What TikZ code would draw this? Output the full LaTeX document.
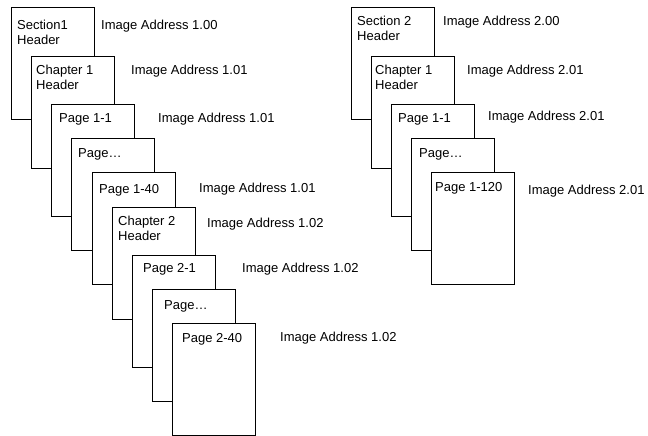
\documentclass[tikz,border=0pt]{standalone}
\usepackage{fontspec}
\setmainfont{Liberation Sans}
\usetikzlibrary{positioning}
\tikzset{font={\fontsize{13pt}{15pt}\selectfont}}
\tikzset{
  page/.style={draw, fill=white, line width=.8pt, inner sep=0pt, outer sep=0pt,
    anchor=north west, minimum width=83.5pt, minimum height=112pt},
  pagetext/.style={anchor=north west, inner sep=0pt, align=left},
  address/.style={anchor=north west, inner sep=0pt}
}

\begin{document}
\begin{tikzpicture}[x=1pt,y=-1pt]
\useasboundingbox (0,0) rectangle (648,436);

%section 1 pages
\node[page] at (11,7)   (s1sec) {};
\node[pagetext] at (17,20)   (s1sectxt) {Section1\\Header};
\node[page] at (31,56)   (s1ch1) {};
\node[pagetext] at (36,65)   (s1ch1txt) {Chapter 1\\Header};
\node[page] at (51,104)   (s1p11) {};
\node[pagetext] at (59,113)   (s1p11txt) {Page 1-1};
\node[page] at (71,138)   (s1pdotsa) {};
\node[pagetext] at (78,148)   (s1pdotsatxt) {Page…};
\node[page] at (92,172)   (s1p140) {};
\node[pagetext] at (99,184)   (s1p140txt) {Page 1-40};
\node[page] at (112,207)   (s1ch2) {};
\node[pagetext] at (118,216)   (s1ch2txt) {Chapter 2\\Header};
\node[page] at (132,255)   (s1p21) {};
\node[pagetext] at (143,263)   (s1p21txt) {Page 2-1};
\node[page] at (152,289)   (s1pdotsb) {};
\node[pagetext] at (164,300)   (s1pdotsbtxt) {Page…};
\node[page] at (172,323)   (s1p240) {};
\node[pagetext] at (182,333)   (s1p240txt) {Page 2-40};

%section 1 addresses
\node[address] at (101,20)   (s1addra) {Image Address 1.00};
\node[address] at (131,65)   (s1addrb) {Image Address 1.01};
\node[address] at (158,113)   (s1addrc) {Image Address 1.01};
\node[address] at (199,183)   (s1addrd) {Image Address 1.01};
\node[address] at (207,218)   (s1addre) {Image Address 1.02};
\node[address] at (242,263)   (s1addrf) {Image Address 1.02};
\node[address] at (280,332)   (s1addrg) {Image Address 1.02};

%section 2 pages
\node[page] at (351,7)   (s2sec) {};
\node[pagetext] at (357,16)   (s2sectxt) {Section 2\\Header};
\node[page] at (371,56)   (s2ch1) {};
\node[pagetext] at (375,65)   (s2ch1txt) {Chapter 1\\Header};
\node[page] at (391,104)   (s2p11) {};
\node[pagetext] at (398,113)   (s2p11txt) {Page 1-1};
\node[page] at (411,138)   (s2pdots) {};
\node[pagetext] at (419,148)   (s2pdotstxt) {Page…};
\node[page] at (431,172)   (s2p1120) {};
\node[pagetext] at (435,182)   (s2p1120txt) {Page 1-120};

%section 2 addresses
\node[address] at (443,16)   (s2addra) {Image Address 2.00};
\node[address] at (467,65)   (s2addrb) {Image Address 2.01};
\node[address] at (488,111)   (s2addrc) {Image Address 2.01};
\node[address] at (528,185)   (s2addrd) {Image Address 2.01};

\end{tikzpicture}
\end{document}
